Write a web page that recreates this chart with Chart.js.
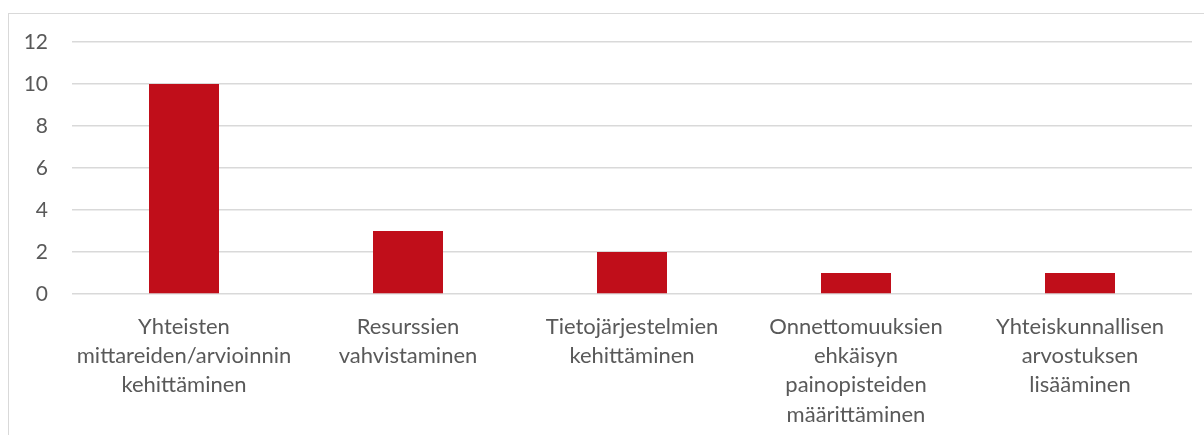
<!DOCTYPE html>
<html>
<head>
<meta charset="utf-8">
<script src="https://cdn.jsdelivr.net/npm/chart.js@4"></script>
<style>
  body { margin: 0; background: #fff; }
  #wrap { position: relative; width: 1204px; height: 435px; overflow: hidden; }
  #frame { position: absolute; left: 8px; top: 13px; width: 1300px; height: 500px; border: 1px solid #d9d9d9; }
  #chart { position: absolute; left: 0; top: 0; }
</style>
</head>
<body>
<div id="wrap">
  <div id="frame"></div>
  <canvas id="chart" width="1204" height="435"></canvas>
</div>
<script>
const categories = [
  ['Yhteisten', 'mittareiden/arvioinnin', 'kehittäminen'],
  ['Resurssien', 'vahvistaminen'],
  ['Tietojärjestelmien', 'kehittäminen'],
  ['Onnettomuuksien', 'ehkäisyn', 'painopisteiden', 'määrittäminen'],
  ['Yhteiskunnallisen', 'arvostuksen', 'lisääminen'],
];
const values = [10, 3, 2, 1, 1];
const yTicks = [0, 2, 4, 6, 8, 10, 12];

const ctx = document.getElementById('chart').getContext('2d');

const chart = new Chart(ctx, {
  type: 'bar',
  data: {
    labels: categories,
    datasets: [
      { data: values, backgroundColor: '#c00e1a', categoryPercentage: 1, barPercentage: 0.3125 },
    ],
  },
  options: {
    responsive: false,
    animation: false,
    layout: { padding: { top: 42, right: 12, left: 0, bottom: 0 } },
    plugins: { legend: { display: false }, tooltip: { enabled: false } },
    scales: {
      x: {
        grid: { display: false },
        border: { display: false },
        ticks: {
          color: '#595959',
          font: { family: 'Lato', size: 22, lineHeight: 1.33 },
          padding: 10,
          maxRotation: 0,
          autoSkip: false,
        },
        afterFit: (scale) => { scale.height = 141; },
      },
      y: {
        min: 0,
        max: 12,
        afterBuildTicks: (scale) => { scale.ticks = yTicks.map((v) => ({ value: v })); },
        grid: { color: '#d9d9d9', lineWidth: 1.5, drawTicks: false },
        border: { display: false },
        ticks: {
          color: '#595959',
          font: { family: 'Lato', size: 21 },
          padding: 24,
        },
        afterFit: (scale) => { scale.width = 72; },
      },
    },
  },
});
</script>
</body>
</html>
